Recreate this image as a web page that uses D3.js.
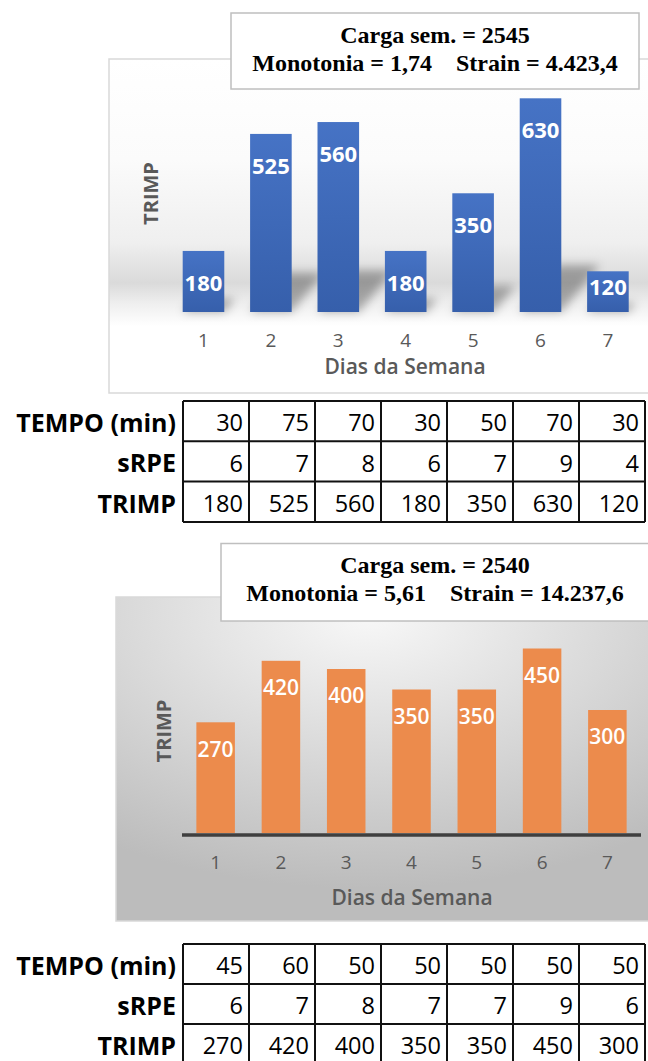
<!DOCTYPE html>
<html>
<head>
<meta charset="utf-8">
<script src="https://cdn.jsdelivr.net/npm/d3@7"></script>
<style>
body { margin: 0; background: #fff; }
svg { display: block; }
.tick text { font-family: "Open Sans", sans-serif; }
</style>
</head>
<body>
<div id="graphHere"></div>
<script>
// chart data
var days = ["1", "2", "3", "4", "5", "6", "7"];
var tempo1 = [30, 75, 70, 30, 50, 70, 30];
var srpe1 = [6, 7, 8, 6, 7, 9, 4];
var trimp1 = [180, 525, 560, 180, 350, 630, 120];
var tempo2 = [45, 60, 50, 50, 50, 50, 50];
var srpe2 = [6, 7, 8, 7, 7, 9, 6];
var trimp2 = [270, 420, 400, 350, 350, 450, 300];
var rowLabels = ["TEMPO (min)", "sRPE", "TRIMP"];
var summary1 = ["Carga sem. = 2545", "Monotonia = 1,74", "Strain = 4.423,4"];
var summary2 = ["Carga sem. = 2540", "Monotonia = 5,61", "Strain = 14.237,6"];

var svg = d3.select("#graphHere").append("svg")
  .attr("width", 648)
  .attr("height", 1061);

var defs = svg.append("defs");

// top panel background: white with grey band near the bar bases
var g1 = defs.append("linearGradient").attr("id", "bg1")
  .attr("gradientUnits", "userSpaceOnUse")
  .attr("x1", 0).attr("y1", 59).attr("x2", 0).attr("y2", 393);
[[0, "#ffffff"], [0.3, "#fbfbfb"], [0.55, "#efefef"], [0.67, "#dadada"], [0.73, "#eeeeee"], [0.8, "#ffffff"], [1, "#ffffff"]]
  .forEach(function(s) { g1.append("stop").attr("offset", s[0]).attr("stop-color", s[1]); });

// bottom panel background: radial grey
var g2 = defs.append("radialGradient").attr("id", "bg2")
  .attr("cx", "45%").attr("cy", "5%").attr("r", "85%");
g2.append("stop").attr("offset", 0).attr("stop-color", "#f8f8f8");
g2.append("stop").attr("offset", 1).attr("stop-color", "#bcbcbc");

var gb = defs.append("linearGradient").attr("id", "blueBar")
  .attr("x1", 0).attr("y1", 0).attr("x2", 0).attr("y2", 1);
gb.append("stop").attr("offset", 0).attr("stop-color", "#4673c5");
gb.append("stop").attr("offset", 1).attr("stop-color", "#365fab");

defs.append("filter").attr("id", "blur")
  .attr("x", "-50%").attr("y", "-50%").attr("width", "200%").attr("height", "200%")
  .append("feGaussianBlur").attr("stdDeviation", 5);

// ---------- top chart ----------
svg.append("rect")
  .attr("x", 109).attr("y", 59).attr("width", 560).attr("height", 334)
  .attr("fill", "url(#bg1)").attr("stroke", "#d9d9d9").attr("stroke-width", 1.5);

var x1 = d3.scaleBand().domain(days).range([162, 649.4]).paddingInner(0.383).paddingOuter(0.307);
var y1 = d3.scaleLinear().domain([0, 630]).range([312, 98.3]);

// perspective shadows
svg.append("g").attr("filter", "url(#blur)").selectAll("polygon")
  .data(trimp1)
  .enter().append("polygon")
  .attr("points", function(d, i) {
    var a = x1(days[i]), b = a + x1.bandwidth(), h = y1(0) - y1(d);
    var dx = h * 0.18, dy = h * 0.22;
    return [[a, y1(0)], [b, y1(0)], [b + dx, y1(0) - dy], [a + dx, y1(0) - dy]].join(" ");
  })
  .attr("fill", "#000").attr("opacity", 0.3);

svg.append("g").selectAll("rect")
  .data(trimp1)
  .enter().append("rect")
  .attr("x", function(d, i) { return x1(days[i]); })
  .attr("y", function(d) { return y1(d); })
  .attr("width", x1.bandwidth())
  .attr("height", function(d) { return y1(0) - y1(d); })
  .attr("fill", "url(#blueBar)");

svg.append("g").selectAll("text")
  .data(trimp1)
  .enter().append("text")
  .text(function(d) { return d; })
  .attr("x", function(d, i) { return x1(days[i]) + x1.bandwidth() / 2; })
  .attr("y", function(d) { var h = y1(0) - y1(d); return y1(d) + Math.min(32, h - 25); })
  .attr("dy", "0.35em")
  .attr("text-anchor", "middle")
  .attr("fill", "#fff")
  .style("font-family", "Open Sans").style("font-weight", "bold").style("font-size", "22px");

var ax1 = svg.append("g").attr("transform", "translate(0,312)")
  .call(d3.axisBottom(x1).tickSize(0).tickPadding(22));
ax1.select(".domain").remove();
ax1.selectAll("text").attr("fill", "#595959").style("font-size", "19px");

svg.append("text").text("Dias da Semana")
  .attr("x", 405).attr("y", 367).attr("dy", "0.35em").attr("text-anchor", "middle")
  .attr("fill", "#595959")
  .style("font-family", "Open Sans").style("font-weight", 600).style("font-size", "21px");

svg.append("text").text("TRIMP")
  .attr("transform", "translate(151,193.5) rotate(-90)")
  .attr("dy", "0.35em").attr("text-anchor", "middle")
  .attr("fill", "#595959")
  .style("font-family", "Open Sans").style("font-weight", "bold").style("font-size", "20px");

// summary box
svg.append("rect")
  .attr("x", 231).attr("y", 13).attr("width", 408).attr("height", 76)
  .attr("fill", "#fff").attr("stroke", "#bfbfbf").attr("stroke-width", 1.5);
svg.append("text").text(summary1[0])
  .attr("x", 435).attr("y", 43).attr("text-anchor", "middle")
  .style("font-family", "Liberation Serif").style("font-weight", "bold").style("font-size", "24px");
svg.append("text").text(summary1[1] + "\u00a0\u00a0\u00a0\u00a0" + summary1[2])
  .attr("x", 435).attr("y", 71).attr("text-anchor", "middle")
  .style("font-family", "Liberation Serif").style("font-weight", "bold").style("font-size", "24px");

// ---------- table helper ----------
var cols = d3.scaleBand().domain(days).range([183, 645]);

function paintTable(top, rowH, rows) {
  var t = svg.append("g");
  rows.forEach(function(vals, r) {
    var yTop = top + r * rowH;
    t.append("text").text(rowLabels[r])
      .attr("x", 176).attr("y", yTop + rowH / 2 + 2).attr("dy", "0.35em")
      .attr("text-anchor", "end").attr("fill", "#000")
      .style("font-family", "Open Sans").style("font-weight", "bold").style("font-size", "25px");
    t.selectAll(null)
      .data(vals)
      .enter().append("text")
      .text(function(d) { return d; })
      .attr("x", function(d, i) { return cols(days[i]) + cols.bandwidth() - 6; })
      .attr("y", yTop + rowH / 2 + 2).attr("dy", "0.35em")
      .attr("text-anchor", "end").attr("fill", "#000")
      .style("font-family", "Open Sans").style("font-size", "23.5px");
  });
  var bottom = top + rows.length * rowH;
  d3.range(rows.length + 1).forEach(function(r) {
    t.append("line")
      .attr("x1", 183).attr("x2", 645)
      .attr("y1", top + r * rowH).attr("y2", top + r * rowH)
      .attr("stroke", "#111").attr("stroke-width", 2);
  });
  days.concat(["end"]).forEach(function(d, i) {
    var xx = i < days.length ? cols(d) : 645;
    t.append("line")
      .attr("x1", xx).attr("x2", xx)
      .attr("y1", top).attr("y2", bottom)
      .attr("stroke", "#111").attr("stroke-width", 2);
  });
}

paintTable(401, 40.3, [tempo1, srpe1, trimp1]);

// ---------- bottom chart ----------
svg.append("rect")
  .attr("x", 116).attr("y", 597).attr("width", 560).attr("height", 324)
  .attr("fill", "url(#bg2)").attr("stroke", "#d9d9d9").attr("stroke-width", 1.5);

var x2 = d3.scaleBand().domain(days).range([182, 641]).paddingInner(0.41).paddingOuter(0.22);
var y2 = d3.scaleLinear().domain([0, 450]).range([833, 648.5]);

svg.append("g").selectAll("rect")
  .data(trimp2)
  .enter().append("rect")
  .attr("x", function(d, i) { return x2(days[i]); })
  .attr("y", function(d) { return y2(d); })
  .attr("width", x2.bandwidth())
  .attr("height", function(d) { return y2(0) - y2(d); })
  .attr("fill", "#ec8b4c");

svg.append("g").selectAll("text")
  .data(trimp2)
  .enter().append("text")
  .text(function(d) { return d; })
  .attr("x", function(d, i) { return x2(days[i]) + x2.bandwidth() / 2; })
  .attr("y", function(d) { return y2(d) + 27; })
  .attr("dy", "0.35em")
  .attr("text-anchor", "middle")
  .attr("fill", "#fff")
  .style("font-family", "Open Sans").style("font-weight", 600).style("font-size", "21px");

svg.append("line")
  .attr("x1", x2.range()[0]).attr("x2", x2.range()[1])
  .attr("y1", 835).attr("y2", 835)
  .attr("stroke", "#3f3f3f").attr("stroke-width", 3.5);

var ax2 = svg.append("g").attr("transform", "translate(0,833)")
  .call(d3.axisBottom(x2).tickSize(0).tickPadding(23));
ax2.select(".domain").remove();
ax2.selectAll("text").attr("fill", "#595959").style("font-size", "19px");

svg.append("text").text("Dias da Semana")
  .attr("x", 412).attr("y", 898).attr("dy", "0.35em").attr("text-anchor", "middle")
  .attr("fill", "#595959")
  .style("font-family", "Open Sans").style("font-weight", 600).style("font-size", "21px");

svg.append("text").text("TRIMP")
  .attr("transform", "translate(163.5,731) rotate(-90)")
  .attr("dy", "0.35em").attr("text-anchor", "middle")
  .attr("fill", "#595959")
  .style("font-family", "Open Sans").style("font-weight", "bold").style("font-size", "20px");

svg.append("rect")
  .attr("x", 221).attr("y", 543.5).attr("width", 440).attr("height", 77.5)
  .attr("fill", "#fff").attr("stroke", "#bfbfbf").attr("stroke-width", 1.5);
svg.append("text").text(summary2[0])
  .attr("x", 435).attr("y", 573).attr("text-anchor", "middle")
  .style("font-family", "Liberation Serif").style("font-weight", "bold").style("font-size", "24px");
svg.append("text").text(summary2[1] + "\u00a0\u00a0\u00a0\u00a0" + summary2[2])
  .attr("x", 435).attr("y", 601).attr("text-anchor", "middle")
  .style("font-family", "Liberation Serif").style("font-weight", "bold").style("font-size", "24px");

paintTable(944, 40, [tempo2, srpe2, trimp2]);
</script>
</body>
</html>
